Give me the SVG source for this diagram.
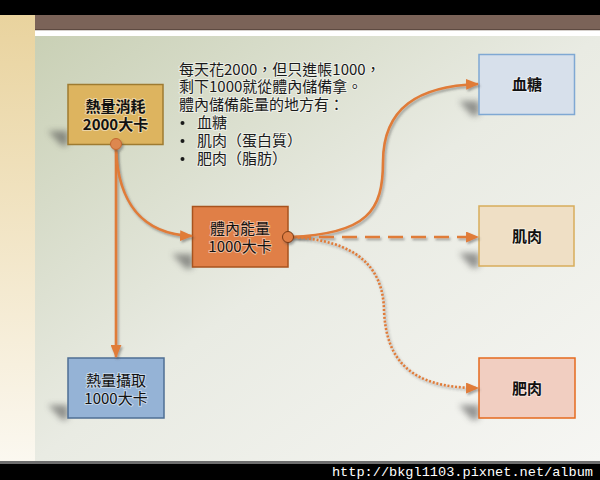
<svg xmlns="http://www.w3.org/2000/svg" width="600" height="480" viewBox="0 0 600 480" xml:lang="zh-TW" lang="zh-TW">
<defs>
<linearGradient id="bg" x1="0" y1="0" x2="1" y2="1">
<stop offset="0" stop-color="#C9D0B5"/>
<stop offset="0.5" stop-color="#E9EBE3"/>
<stop offset="1" stop-color="#F6F6F3"/>
</linearGradient>
<linearGradient id="strip" x1="0" y1="0" x2="0" y2="1">
<stop offset="0" stop-color="#E9D39E"/>
<stop offset="1" stop-color="#FBF8F0"/>
</linearGradient>
<filter id="blur" x="-50%" y="-50%" width="200%" height="200%"><feGaussianBlur stdDeviation="3"/></filter>
<filter id="ds" filterUnits="userSpaceOnUse" x="0" y="0" width="600" height="480"><feDropShadow dx="1.5" dy="2" stdDeviation="1" flood-color="#444" flood-opacity="0.45"/></filter>
<marker id="arr" viewBox="0 0 12 10" refX="11" refY="5" markerWidth="13" markerHeight="11" markerUnits="userSpaceOnUse" orient="auto">
<path d="M0,0 L12,5 L0,10 z" fill="#E07B39"/>
</marker>
<style>
.box{stroke-width:1.5}
.sh{fill:#4a4a4a;opacity:0.55;filter:url(#blur)}
.lbl{font-family:"Noto Sans CJK TC","Noto Sans CJK SC",sans-serif;font-size:15px;fill:#111;text-anchor:middle;paint-order:stroke;stroke:#ffffff;stroke-opacity:0.45;stroke-width:2}
.b{font-weight:bold}
.txt{font-family:"Noto Sans CJK TC","Noto Sans CJK SC",sans-serif;font-size:15px;fill:#1a1a1a;paint-order:stroke;stroke:#ffffff;stroke-opacity:0.5;stroke-width:2}
.ln{fill:none;stroke:#E07B39;stroke-width:2.6;filter:url(#ds)}
</style>
</defs>

<!-- background -->
<rect x="0" y="0" width="600" height="480" fill="#000"/>
<rect x="0" y="15" width="600" height="447" fill="#FBFAF6"/>
<rect x="35" y="36" width="565" height="425" fill="url(#bg)"/>
<rect x="0" y="15" width="35" height="447" fill="url(#strip)"/>
<rect x="35" y="15" width="565" height="15" fill="#7B6358"/>
<rect x="35" y="29" width="565" height="1.5" fill="#5E4A41"/>
<rect x="35" y="30.5" width="565" height="5.5" fill="#FFFFFF"/>
<rect x="0" y="461" width="600" height="3" fill="#6E6E6E"/>
<rect x="0" y="464" width="600" height="16" fill="#000"/>
<text x="593" y="476" font-family="Liberation Mono, monospace" font-size="13.6" fill="#FFFFFF" text-anchor="end">http://bkgl1103.pixnet.net/album</text>

<!-- shadows -->
<g>
<polygon class="sh" points="48,131 68,131 68,145 62,146"/>
<polygon class="sh" points="48,405 68,405 68,419 62,420"/>
<polygon class="sh" points="172,254 193,254 193,268 186,269"/>
<polygon class="sh" points="459,101 479,101 479,115 472,116"/>
<polygon class="sh" points="459,253 479,253 479,267 472,268"/>
<polygon class="sh" points="459,405 479,405 479,419 472,420"/>
</g>

<g id="n-consume">
<rect class="box" x="68" y="84.5" width="95" height="60" fill="#DDB45F" stroke="#9E7B31"/>
<text class="lbl b" x="115.5" y="112">熱量消耗</text>
<text class="lbl b" x="115.5" y="130">2000大卡</text>
</g>

<g id="n-intake">
<rect class="box" x="68" y="358" width="96" height="60" fill="#95B3D6" stroke="#4F6F94"/>
<text class="lbl" x="116" y="386">熱量攝取</text>
<text class="lbl" x="116" y="404">1000大卡</text>
</g>

<g id="n-body">
<rect class="box" x="192.5" y="206.5" width="95.5" height="60.5" fill="#E07F47" stroke="#A8531E"/>
<text class="lbl" x="240" y="234">體內能量</text>
<text class="lbl" x="240" y="252">1000大卡</text>
</g>

<g id="n-blood">
<rect class="box" x="479" y="54.5" width="95.5" height="60" fill="#D7E0EB" stroke="#7FA8D3"/>
<text class="lbl b" x="527" y="90">血糖</text>
</g>

<g id="n-muscle">
<rect class="box" x="479" y="206" width="95" height="60" fill="#EFDFC5" stroke="#D8AD5B"/>
<text class="lbl b" x="527" y="242">肌肉</text>
</g>

<g id="n-fat">
<rect class="box" x="479" y="358" width="96" height="60" fill="#F1CEC1" stroke="#E56A1E"/>
<text class="lbl b" x="527" y="394">肥肉</text>
</g>

<!-- connectors -->
<g id="connectors">
<path class="ln" d="M116,149 L116,357" marker-end="url(#arr)"/>
<path class="ln" d="M116,149 C118,200 140,234 192,236" marker-end="url(#arr)"/>
<path class="ln" d="M290,237 C368,234 383,210 383,162 C383,108 418,86 478,84" marker-end="url(#arr)"/>
<path class="ln" d="M296,237 L478,237" stroke-width="3" stroke-dasharray="15,8" marker-end="url(#arr)"/>
<path class="ln" d="M290,237 C358,240 383,268 384,310 C386,360 410,388 478,388" stroke-width="2.8" stroke-dasharray="2,1.8" marker-end="url(#arr)"/>
<circle cx="116" cy="144" r="5.5" fill="#DD8750" stroke="#C2672F" stroke-width="1" filter="url(#ds)"/>
<circle cx="288" cy="237" r="5.5" fill="#E07F45" stroke="#7A3A12" stroke-width="1" filter="url(#ds)"/>
</g>

<g id="note">
<text class="txt" x="179" y="75">每天花2000，但只進帳1000，</text>
<text class="txt" x="179" y="92">剩下1000就從體內儲備拿。</text>
<text class="txt" x="179" y="110">體內儲備能量的地方有：</text>
<circle cx="182.5" cy="123" r="2" fill="#1a1a1a"/>
<text class="txt" x="197" y="128">血糖</text>
<circle cx="182.5" cy="141" r="2" fill="#1a1a1a"/>
<text class="txt" x="197" y="146">肌肉（蛋白質）</text>
<circle cx="182.5" cy="159" r="2" fill="#1a1a1a"/>
<text class="txt" x="197" y="164">肥肉（脂肪）</text>
</g>
</svg>
